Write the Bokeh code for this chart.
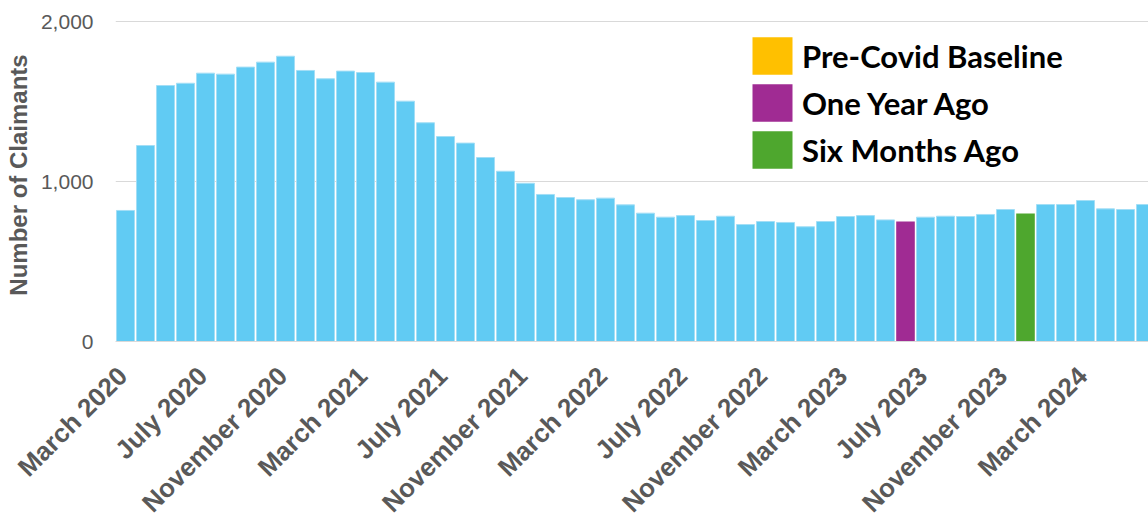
import math
from bokeh.plotting import figure
from bokeh.models import (ColumnDataSource, Range1d, FixedTicker, NumeralTickFormatter,
                          Legend, LegendItem)
from bokeh.embed import file_html
from bokeh.resources import INLINE

months = [
    "March 2020", "April 2020", "May 2020", "June 2020", "July 2020", "August 2020",
    "September 2020", "October 2020", "November 2020", "December 2020", "January 2021",
    "February 2021", "March 2021", "April 2021", "May 2021", "June 2021", "July 2021",
    "August 2021", "September 2021", "October 2021", "November 2021", "December 2021",
    "January 2022", "February 2022", "March 2022", "April 2022", "May 2022", "June 2022",
    "July 2022", "August 2022", "September 2022", "October 2022", "November 2022",
    "December 2022", "January 2023", "February 2023", "March 2023", "April 2023",
    "May 2023", "June 2023", "July 2023", "August 2023", "September 2023", "October 2023",
    "November 2023", "December 2023", "January 2024", "February 2024", "March 2024",
    "April 2024", "May 2024", "June 2024",
]
claimants = [
    819, 1225, 1600, 1614, 1677, 1671, 1715, 1746, 1783, 1694, 1642, 1690, 1681,
    1621, 1502, 1367, 1281, 1240, 1150, 1064, 989, 919, 900, 886, 896, 854, 802,
    777, 787, 756, 783, 731, 750, 744, 717, 750, 781, 787, 760, 750, 777, 783,
    781, 794, 825, 800, 856, 856, 881, 829, 825, 856,
]
tick_labels = [
    "March 2020", "July 2020", "November 2020", "March 2021", "July 2021",
    "November 2021", "March 2022", "July 2022", "November 2022", "March 2023",
    "July 2023", "November 2023", "March 2024",
]
y_ticks = [0, 1000, 2000]
one_year_ago = "June 2023"
six_months_ago = "December 2023"

BLUE = "#61CBF3"
PURPLE = "#A02B93"
GREEN = "#4EA72E"
YELLOW = "#FFC000"
GRAY = "#595959"

idx = list(range(len(months)))
oya_i = months.index(one_year_ago)
sma_i = months.index(six_months_ago)
special = {oya_i, sma_i}
base = ColumnDataSource(dict(x=[i for i in idx if i not in special],
                             top=[claimants[i] for i in idx if i not in special]))
oya = ColumnDataSource(dict(x=[oya_i], top=[claimants[oya_i]]))
sma = ColumnDataSource(dict(x=[sma_i], top=[claimants[sma_i]]))
pre = ColumnDataSource(dict(x=[0], top=[float("nan")]))

FW, FH = 1033, 333
p = figure(frame_width=FW, frame_height=FH,
           min_border_left=115, min_border_right=0, min_border_top=8,
           min_border_bottom=0,
           x_range=Range1d(-0.5, -0.5 + FW / 20), y_range=Range1d(0, 2081.25),
           output_backend="svg", toolbar_location=None)
p.outline_line_color = None
p.background_fill_color = "white"

p.vbar(x="x", top="top", width=0.9, source=base, fill_color=BLUE,
       line_color="#A3DEF6", line_width=1)
r_oya = p.vbar(x="x", top="top", width=0.93, source=oya, fill_color=PURPLE, line_color=None)
r_sma = p.vbar(x="x", top="top", width=0.93, source=sma, fill_color=GREEN, line_color=None)
r_pre = p.vbar(x="x", top="top", width=0.93, source=pre, fill_color=YELLOW, line_color=None)

legend = Legend(items=[
    LegendItem(label="Pre-Covid Baseline", renderers=[r_pre]),
    LegendItem(label="One Year Ago", renderers=[r_oya]),
    LegendItem(label="Six Months Ago", renderers=[r_sma]),
], location=(632, 168), glyph_width=50, glyph_height=47, label_height=47,
    spacing=0, padding=0, margin=0, label_standoff=5,
    label_text_font="Lato", label_text_font_style="bold", label_text_font_size="31px",
    label_text_color="black", border_line_color=None, background_fill_alpha=0)
p.add_layout(legend)

# grid
p.xgrid.grid_line_color = None
p.ygrid.ticker = FixedTicker(ticks=y_ticks)
p.ygrid.grid_line_color = "#D9D9D9"
p.ygrid.grid_line_width = 1

# y axis
p.yaxis.ticker = FixedTicker(ticks=y_ticks)
p.yaxis.formatter = NumeralTickFormatter(format="0,0")
p.yaxis.axis_line_color = None
p.yaxis.major_tick_line_color = None
p.yaxis.major_tick_out = 0
p.yaxis.major_tick_in = 0
p.yaxis.minor_tick_line_color = None
p.yaxis.major_label_standoff = 22
p.yaxis.major_label_text_font = "Liberation Sans"
p.yaxis.major_label_text_font_size = "21px"
p.yaxis.major_label_text_color = GRAY
p.yaxis.axis_label = "Number of Claimants"
p.yaxis.axis_label_text_font = "Liberation Sans"
p.yaxis.axis_label_text_font_style = "bold"
p.yaxis.axis_label_text_font_size = "24px"
p.yaxis.axis_label_text_color = GRAY
p.yaxis.axis_label_standoff = 6

# x axis: rotated month labels ending just under their bar
LABEL_SHIFT = -0.15
tick_pos = [months.index(t) + LABEL_SHIFT for t in tick_labels]
p.xaxis.ticker = FixedTicker(ticks=tick_pos)
p.xaxis.major_label_overrides = {pos: lbl for pos, lbl in zip(tick_pos, tick_labels)}
p.xaxis.axis_line_color = "#D9D9D9"
p.xaxis.major_tick_line_color = None
p.xaxis.major_tick_out = 0
p.xaxis.major_tick_in = 0
p.xaxis.minor_tick_line_color = None
p.xaxis.major_label_orientation = math.radians(45)
p.xaxis.major_label_standoff = 30
p.xaxis.major_label_text_font = "Liberation Sans"
p.xaxis.major_label_text_font_style = "bold"
p.xaxis.major_label_text_font_size = "26px"
p.xaxis.major_label_text_color = GRAY

open("out.html", "w").write(file_html(p, INLINE))
